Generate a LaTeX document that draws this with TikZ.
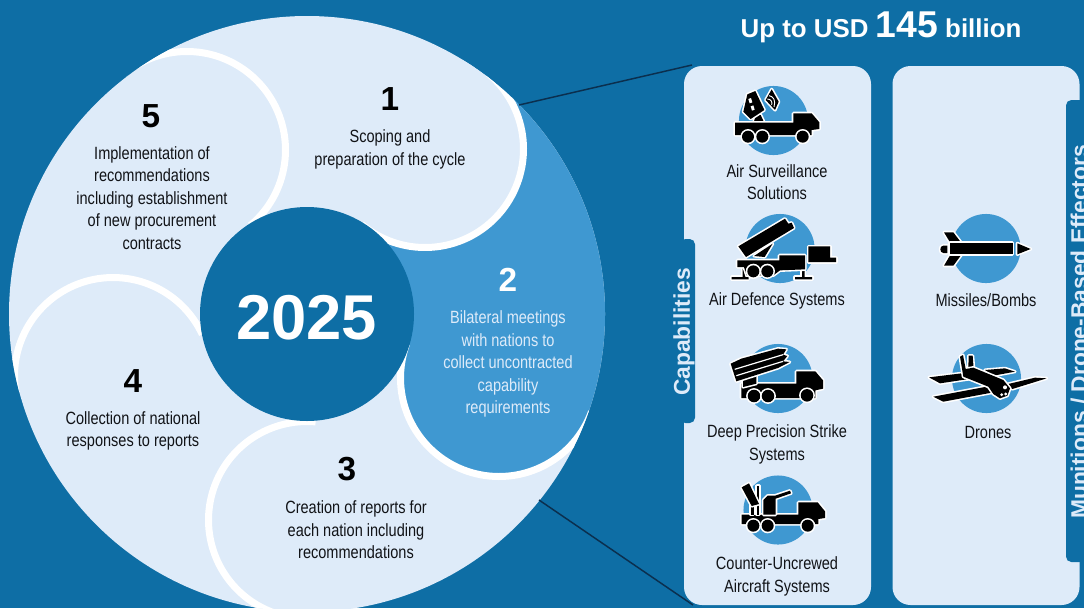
\documentclass[tikz,border=0pt]{standalone}
\usepackage{fontspec}
\setmainfont{Liberation Sans}
\newfontfamily\narrow[FakeStretch=0.82]{Liberation Sans}
\definecolor{bgblue}{HTML}{0E6EA5}
\definecolor{midblue}{HTML}{3F98D1}
\definecolor{pale}{HTML}{DEEBF9}
\definecolor{navy}{HTML}{0B2F4E}
\definecolor{ink}{HTML}{111317}
\tikzset{
  body/.style={font=\narrow\fontsize{13.3}{16.85}\selectfont,align=center,text=ink,inner sep=0pt},
  bodyw/.style={body,text=pale},
  numk/.style={font=\bfseries\fontsize{25}{25}\selectfont,text=black,inner sep=0pt},
  numw/.style={numk,text=white},
  panel/.style={fill=pale,rounded corners=13.5pt,minimum width=140.25pt,minimum height=404.25pt,inner sep=0pt},
  sidetext/.style={font=\bfseries\fontsize{17.1}{17.1}\selectfont,text=pale,rotate=90,inner sep=0pt},
  ringline/.style={draw=white,line width=5.25pt,line cap=butt},
  icon/.style={preaction={draw=white,fill=white,line width=2.4pt,line join=round},fill=black},
  spot/.style={fill=midblue},
  wheel/.style={preaction={draw=white,line width=2.4pt},fill=black},
  link/.style={draw=navy,line width=1.1pt},
  gap/.style={draw=white,line width=0.9pt}
}
\newcommand{\ringarc}[4]{\draw[ringline,variable=\t,domain=#3:#4,samples=70] plot ({#1+98.5*cos(\t)},{#2+98.5*sin(\t)});}
\begin{document}
\begin{tikzpicture}[x=0.75pt,y=-0.75pt]
\useasboundingbox (0,0) rectangle (1084,608);
\fill[bgblue] (0,0) rectangle (1084,608);
% big disc
\fill[pale] (307,314) circle[radius=223.5pt];
\begin{scope}
\clip (307,314) circle[radius=223.5pt];
\fill[midblue] (307,314) -- (498,85) -- (650,60) -- (650,420) -- (588,411) -- (499,378) -- cycle;
\fill[pale] (425,149) circle[radius=72.4pt];
\ringarc{425}{149}{310}{490}
\ringarc{307}{520}{275}{110}
\fill[midblue] (499,378) circle[radius=71.6pt];
\ringarc{499}{378}{20}{200}
\ringarc{113}{376}{335}{170}
\ringarc{187}{150}{230}{410}
\end{scope}
\node[circle,fill=bgblue,minimum size=160.5pt,inner sep=0pt] (year) at (307,314) {};
\node[text=white,font=\bfseries\fontsize{47.5}{47.5}\selectfont,inner sep=0pt] (yeartext) at (306.5,318) {2025};
% step texts
\node[numk] (n1) at (390,99) {1};
\node[body] (t1) at (390,149.5) {Scoping and\\preparation of the cycle};
\node[numw] (n2) at (508,280) {2};
\node[bodyw] (t2) at (508,364) {Bilateral meetings\\with nations to\\collect uncontracted\\capability\\requirements};
\node[numk] (n3) at (347,469) {3};
\node[body] (t3) at (356,530) {Creation of reports for\\each nation including\\recommendations};
\node[numk] (n4) at (133,381) {4};
\node[body] (t4) at (133,431) {Collection of national\\responses to reports};
\node[numk] (n5) at (151,116) {5};
\node[body] (t5) at (152,198) {Implementation of\\recommendations\\including establishment\\of new procurement\\contracts};
% connectors, then panels
\coordinate (la) at (519,105);
\coordinate (lb) at (539,500);
\coordinate (la2) at (692,65);
\coordinate (lb2) at (693,605);
\draw[link] (la) -- (la2);
\draw[link] (lb) -- (lb2);
\node[panel] (pa) at (777.5,335.5) {};
\node[panel] (pb) at (986,335.5) {};
% tabs
\fill[bgblue,rounded corners=4pt] (680,239) -- (695,239) -- (695,423) -- (680,423) -- cycle;
\fill[bgblue,rounded corners=4pt] (1090,100) -- (1066,100) -- (1066,562) -- (1090,562) -- cycle;
\node[sidetext] (capt) at (684,332) {Capabilities};
\node[sidetext] (munt) at (1079,332) {Munitions / Drone-Based Effectors};
% header
\node[text=white,inner sep=0pt,font=\bfseries\fontsize{19.4}{22}\selectfont] (head) at (881,27) {Up to USD {\fontsize{28}{28}\selectfont 145} billion};
% spots
\fill[spot] (773.5,120.5) circle[radius=25.9pt];
\fill[spot] (780,248.5) circle[radius=25.9pt];
\fill[spot] (778,378.5) circle[radius=25.9pt];
\fill[spot] (778,510) circle[radius=25.9pt];
\fill[spot] (986,248.5) circle[radius=25.9pt];
\fill[spot] (986.5,378.5) circle[radius=25.9pt];
% icon 1
\begin{scope}[shift={(730,85)},x=0.25pt,y=-0.25pt]
\path[icon] (70,115) -- (78,90) -- (92,90) -- (105,118) -- cycle;
\path[icon] (52,28) -- (76,18) -- (103,75) -- (62,102) -- (40,80) -- cycle;
\fill[white] (55,42) -- (63,39) -- (67,52) -- (59,55) -- cycle (62,64) -- (70,61) -- (74,74) -- (66,77) -- cycle;
\path[icon] (107,45) -- (125,13) -- (146,50) -- (135,75) -- cycle;
\draw[white,line width=0.7pt] (112,42) .. controls (122,42) and (128,50) .. (125,60);
\draw[white,line width=0.7pt] (117,32) .. controls (130,34) and (138,46) .. (132,66);
\path[icon] (15,113) -- (190,113) -- (190,85) -- (245,85) -- (268,112) -- (268,132) -- (245,135) -- (245,150) -- (15,150) -- cycle;
\path[wheel] (54,155) circle[radius=4.5pt];
\path[wheel] (97,155) circle[radius=4.5pt];
\path[wheel] (218,155) circle[radius=4.5pt];
\end{scope}
% icon 2
\begin{scope}[shift={(730,212)},x=0.25pt,y=-0.25pt]
\path[icon] (25,103) -- (165,20) -- (175,35) -- (185,32) -- (192,48) -- (48,135) -- cycle;
\path[icon] (72,132) -- (128,95) -- (104,135) -- cycle;
\path[icon] (235,103) -- (300,103) -- (300,137) -- (318,137) -- (318,150) -- (235,150) -- cycle;
\path[icon] (38,165) -- (46,165) -- (46,195) -- (56,195) -- (56,202) -- (5,202) -- (5,195) -- (38,195) -- cycle;
\path[icon] (216,175) -- (224,175) -- (224,195) -- (246,195) -- (246,202) -- (195,202) -- (195,195) -- (216,195) -- cycle;
\path[icon] (22,145) -- (148,145) -- (148,130) -- (225,130) -- (225,172) -- (150,175) -- (130,190) -- (50,190) -- (42,165) -- (22,165) -- cycle;
\path[wheel] (70,178) circle[radius=4.5pt];
\path[wheel] (112,178) circle[radius=4.5pt];
\end{scope}
% icon 3
\begin{scope}[shift={(728,342)},x=0.25pt,y=-0.25pt]
\path[icon] (40,125) -- (205,125) -- (205,88) -- (262,88) -- (285,115) -- (285,140) -- (262,145) -- (262,168) -- (40,168) -- cycle;
\path[icon] (45,135) -- (45,112) -- (85,98) -- (85,125) -- cycle;
\path[icon] (8,65) -- (40,50) -- (150,20) -- (175,22) -- (165,38) -- (178,42) -- (165,58) -- (185,60) -- (150,78) -- (25,118) -- cycle;
\draw[gap] (20,82) -- (165,38);
\draw[gap] (25,101) -- (165,58);
\path[wheel] (78,162) circle[radius=4.7pt];
\path[wheel] (120,162) circle[radius=4.7pt];
\path[wheel] (237,160) circle[radius=4.7pt];
\end{scope}
% icon 4
\begin{scope}[shift={(735,474)},x=0.25pt,y=-0.25pt]
\path[icon] (20,122) -- (190,122) -- (190,85) -- (248,85) -- (270,112) -- (270,132) -- (250,135) -- (250,150) -- (20,150) -- cycle;
\path[icon] (85,122) -- (85,78) -- (98,65) -- (120,65) -- (165,50) -- (168,58) -- (122,74) -- (122,122) -- cycle;
\path[icon] (48,122) -- (48,90) -- (56,90) -- (56,122) -- cycle;
\path[icon] (66,122) -- (66,35) -- (73,35) -- (73,122) -- cycle;
\path[icon] (20,40) -- (42,28) -- (72,90) -- (50,96) -- cycle;
\path[wheel] (55,155) circle[radius=4.5pt];
\path[wheel] (98,155) circle[radius=4.5pt];
\path[wheel] (218,155) circle[radius=4.5pt];
\end{scope}
% icon 5 missile
\begin{scope}[shift={(930,225)},x=0.25pt,y=-0.25pt]
\path[icon] (42,22) -- (70,22) -- (95,55) -- (62,55) -- cycle;
\path[icon] (62,88) -- (95,88) -- (70,122) -- (42,122) -- cycle;
\path[icon] (52,62) -- (40,62) .. controls (28,62) and (28,84) .. (40,84) -- (52,84) -- cycle;
\path[icon] (60,53) -- (248,53) -- (248,88) -- (60,88) -- cycle;
\path[icon] (262,55) -- (302,72) -- (262,88) -- cycle;
\end{scope}
% icon 6 drone
\begin{scope}[shift={(925,345)},x=0.25pt,y=-0.25pt]
\path[icon] (180,75) -- (240,70) -- (270,80) -- (205,92) -- cycle;
\path[icon] (245,118) -- (330,98) -- (365,100) -- (262,132) -- cycle;
\path[icon] (12,97) -- (110,85) -- (145,100) -- (45,115) -- cycle;
\path[icon] (25,155) -- (185,125) -- (205,142) -- (55,170) -- cycle;
\path[icon] (130,70) -- (131,32) -- (143,32) -- (146,72) -- cycle;
\path[icon] (115,95) -- (105,35) -- (114,30) -- (122,72) -- (145,68) -- (235,105) -- (255,130) -- (247,152) -- (225,160) -- (205,147) -- (190,125) -- cycle;
\fill[white] (240,127) circle[radius=1.5pt];
\fill[white] (230,149) circle[radius=1.2pt];
\fill[white] (242,147) circle[radius=1.2pt];
\end{scope}
% icon labels
\node[body] (l1) at (777,182) {Air Surveillance\\Solutions};
\node[body] (l2) at (777,301) {Air Defence Systems};
\node[body] (l3) at (777,444.5) {Deep Precision Strike\\Systems};
\node[body] (l4) at (777,576.5) {Counter-Uncrewed\\Aircraft Systems};
\node[body] (l5) at (986,300) {Missiles/Bombs};
\node[body] (l6) at (988,432) {Drones};
\end{tikzpicture}
\end{document}
